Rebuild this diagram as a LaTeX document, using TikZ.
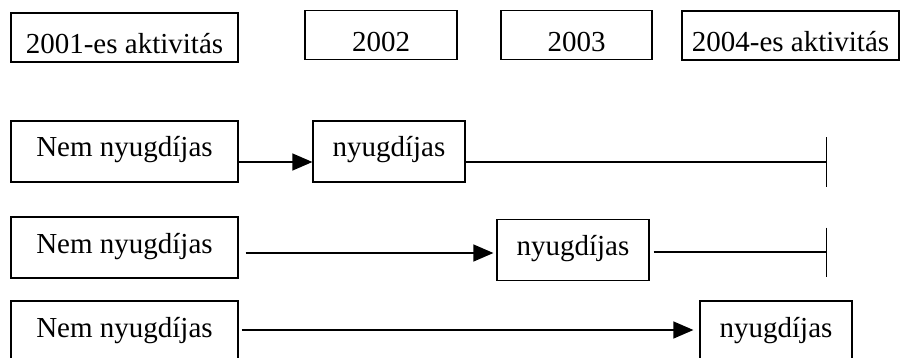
\documentclass[tikz,border=0pt]{standalone}
\usepackage{fontspec}
\setmainfont{Liberation Serif}
\usetikzlibrary{arrows.meta}
\tikzset{
  yearbox/.style={draw, line width=1.2pt, inner xsep=0pt, inner ysep=4pt, text height=37pt, text depth=4pt, font=\fontsize{29}{34}\selectfont},
  statebox/.style={draw, line width=1.2pt, inner xsep=0pt, inner ysep=4pt, text height=32pt, text depth=21pt, font=\fontsize{29}{34}\selectfont},
  tostate/.style={line width=1.2pt, -{Triangle[length=20pt,width=17pt]}},
  toend/.style={line width=1.2pt, -{Bar[width=49pt,line width=1.4pt]}}
}
\begin{document}
\begin{tikzpicture}[x=1pt,y=-1pt]
  \useasboundingbox (0,0) rectangle (901,358);
  \node[yearbox, minimum width=227pt] (y1) at (124.5,37.5) {2001-es aktivitás};
  \node[yearbox, minimum width=152pt] (y2) at (381,35) {2002};
  \node[yearbox, minimum width=151pt] (y3) at (576.5,35) {2003};
  \node[yearbox, minimum width=217pt] (y4) at (790.5,35.5) {2004-es aktivitás};

  \node[statebox, minimum width=227pt] (nem1) at (124.5,151.5) {Nem nyugdíjas};
  \node[statebox, minimum width=152pt] (ny1) at (389,151.5) {nyugdíjas};
  \coordinate (end1) at (827,162);
  \draw[tostate] ([yshift=-10.5pt]nem1.east) -- ([yshift=-10.5pt]ny1.west);
  \draw[toend] ([yshift=-10.5pt]ny1.east) -- (end1);

  \node[statebox, minimum width=227pt] (nem2) at (124.5,247.5) {Nem nyugdíjas};
  \node[statebox, minimum width=152pt] (ny2) at (573,250) {nyugdíjas};
  \coordinate (end2) at (827,252);
  \draw[tostate, shorten <=7pt, shorten >=3pt] ([yshift=-5.5pt]nem2.east) -- ([yshift=-3pt]ny2.west);
  \draw[toend, shorten <=4pt] ([yshift=-2pt]ny2.east) -- (end2);

  \node[statebox, minimum width=227pt] (nem3) at (124.5,331.5) {Nem nyugdíjas};
  \node[statebox, minimum width=152pt] (ny3) at (776,331.5) {nyugdíjas};
  \draw[tostate, shorten <=3pt, shorten >=6pt] ([yshift=1.5pt]nem3.east) -- ([yshift=1.5pt]ny3.west);
\end{tikzpicture}
\end{document}
